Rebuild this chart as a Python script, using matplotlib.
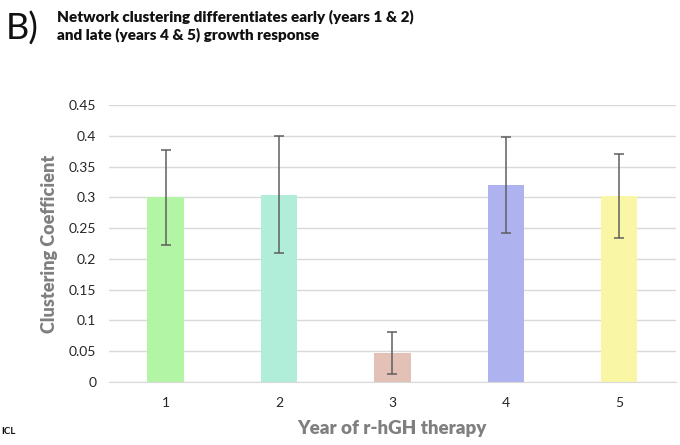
import numpy as np
import matplotlib.pyplot as plt

years = ['1', '2', '3', '4', '5']
clustering = [0.300, 0.304, 0.047, 0.320, 0.302]
errors = [0.077, 0.095, 0.034, 0.078, 0.068]
colours = ['#b2f5a5', '#b0eed9', '#e3c1b6', '#aeb2ee', '#f9f7a5']

plt.rcParams['font.family'] = ['Lato', 'DejaVu Sans']

fig = plt.figure(figsize=(6.8, 4.45), dpi=100)
ax = fig.add_axes([0.160, 0.1416, 0.834, 0.6224])

x = np.arange(len(years))
ax.bar(x, clustering, width=0.32, color=colours, zorder=2)
ax.errorbar(x, clustering, yerr=errors, fmt='none', ecolor='#5f5f5f',
            elinewidth=1.1, capsize=3.8, capthick=1.1, zorder=3)

ax.set_xlim(-0.5, 4.5)
ax.set_ylim(0, 0.45)
yt = np.arange(0, 0.46, 0.05)
ax.set_yticks(yt)
ax.set_yticklabels(['0' if v == 0 else f'{v:.2f}'.rstrip('0') for v in yt])
ax.set_xticks(x)
ax.set_xticklabels(years)
ax.yaxis.grid(True, color='#d9d9d9', linewidth=1.0, zorder=0)
ax.tick_params(axis='both', length=0, labelsize=10, colors='#262626')
ax.tick_params(axis='y', pad=9)
ax.tick_params(axis='x', pad=11)
for s in ['top', 'right', 'left']:
    ax.spines[s].set_visible(False)
ax.spines['bottom'].set_color('#d9d9d9')

ax.set_ylabel('Clustering Coefficient', fontsize=13, fontweight='heavy',
              color='#7f7f7f', labelpad=8)
ax.set_xlabel('Year of r-hGH therapy', fontsize=13.5, fontweight='heavy',
              color='#7f7f7f', labelpad=8)

fig.text(0.008, 0.912, 'B)', fontsize=26, ha='left', va='baseline', color='#111111')
fig.text(0.084, 0.952, 'Network clustering differentiates early (years 1 & 2)',
         fontsize=11, fontweight='heavy', ha='left', va='baseline', color='#111111')
fig.text(0.084, 0.911, 'and late (years 4 & 5) growth response',
         fontsize=11, fontweight='heavy', ha='left', va='baseline', color='#111111')

fig.text(0.002, 0.024, 'ICL', fontsize=7, fontweight='bold', ha='left', color='#111111')

fig.savefig('out.png', dpi=100)
